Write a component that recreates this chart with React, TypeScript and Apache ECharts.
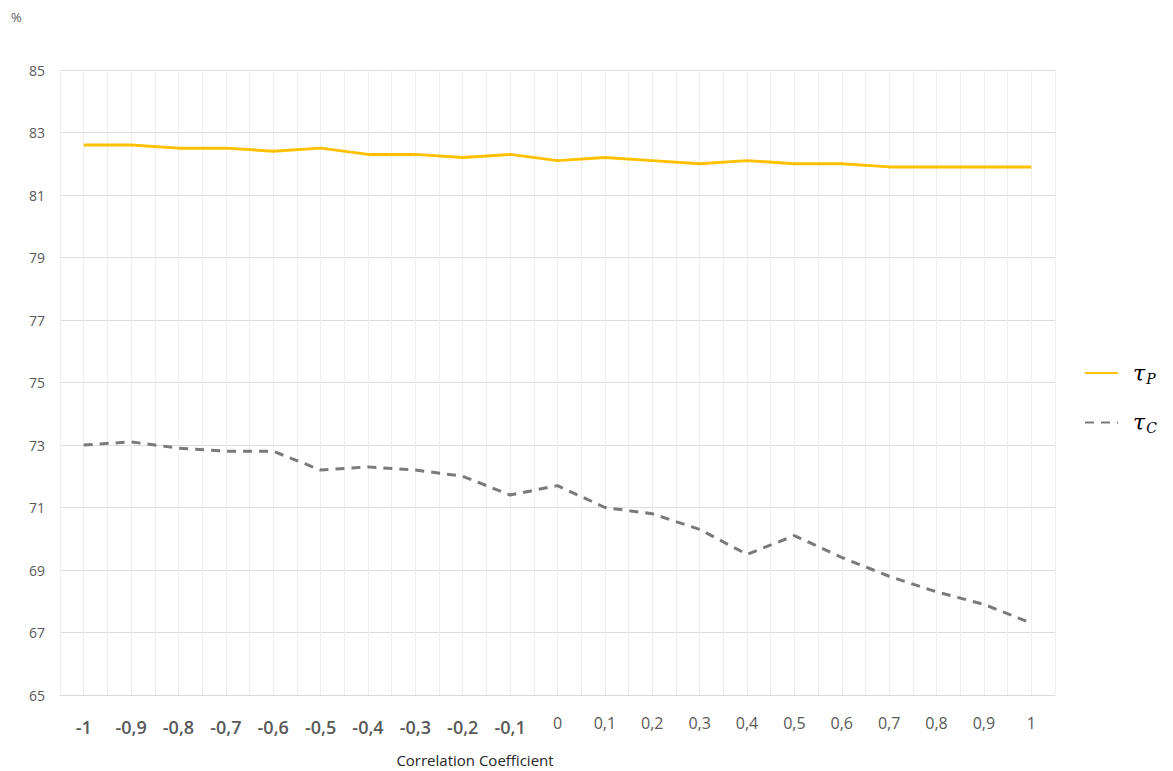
import React, { useEffect, useRef } from "react";
import * as echarts from "echarts";

const correlation: number[] = [-1, -0.9, -0.8, -0.7, -0.6, -0.5, -0.4, -0.3, -0.2, -0.1, 0, 0.1, 0.2, 0.3, 0.4, 0.5, 0.6, 0.7, 0.8, 0.9, 1];
const tauP: number[] = [82.6, 82.6, 82.5, 82.5, 82.4, 82.5, 82.3, 82.3, 82.2, 82.3, 82.1, 82.2, 82.1, 82.0, 82.1, 82.0, 82.0, 81.9, 81.9, 81.9, 81.9];
const tauC: number[] = [73.0, 73.1, 72.9, 72.8, 72.8, 72.2, 72.3, 72.2, 72.0, 71.4, 71.7, 71.0, 70.8, 70.3, 69.5, 70.1, 69.4, 68.8, 68.3, 67.9, 67.3];
const yTicks = { min: 65, max: 85, interval: 2 };

const FONT = "'Open Sans', 'Liberation Sans', sans-serif";

export default function App() {
  const ref = useRef<HTMLDivElement>(null);
  useEffect(() => {
    if (!ref.current) return;
    const chart = echarts.init(ref.current, undefined, { renderer: "svg" });
    chart.setOption({
      animation: false,
      backgroundColor: "#ffffff",
      grid: { left: 60, right: 118, top: 70, bottom: 76, containLabel: false },
      legend: {
        orient: "vertical",
        left: 1079,
        top: 357,
        itemWidth: 33,
        itemHeight: 14,
        itemGap: 26,
        data: ["tauP", "tauC"],
        itemStyle: { opacity: 0 },
        formatter: (name: string) =>
          name === "tauP" ? "{t|τ}{s|P}" : "{t|τ}{s|C}",
        textStyle: {
          rich: {
            t: { fontFamily: "'DejaVu Serif', serif", fontStyle: "italic", fontSize: 22, color: "#000", padding: [0, 0, 0, 10] },
            s: { fontFamily: "'DejaVu Serif', serif", fontStyle: "italic", fontSize: 14, color: "#000", padding: [11, 0, 0, 1] },
          },
        },
      },
      xAxis: {
        type: "value",
        min: -1.05,
        max: 1.05,
        interval: 0.05,
        axisLine: { show: true, lineStyle: { color: "#d9d9d9", width: 1 } },
        axisTick: { show: false },
        splitLine: { show: true, lineStyle: { color: "#eeeeee", width: 1 } },
        axisLabel: {
          margin: 20,
          formatter: (v: number) => {
            const n = Math.round(v * 20);
            if (n % 2 !== 0) return "";
            const val = n / 20;
            const s = (Math.round(val * 10) / 10).toString().replace(".", ",");
            return val < 0 ? "{a|" + s + "}" : "{b|" + s + "}";
          },
          rich: {
            a: { fontFamily: FONT, fontSize: 18, fontWeight: 600, color: "#595959", padding: [3, 0, 0, 0] },
            b: { fontFamily: FONT, fontSize: 16, color: "#595959" },
          },
        },
      },
      yAxis: {
        type: "value",
        min: yTicks.min,
        max: yTicks.max,
        interval: yTicks.interval,
        axisLine: { show: false },
        axisTick: { show: false },
        splitLine: { show: true, lineStyle: { color: "#dcdcdc", width: 1 } },
        axisLabel: { margin: 15, fontFamily: FONT, fontSize: 14, color: "#595959" },
      },
      graphic: [
        { type: "text", left: 11, top: 10, style: { text: "%", fontFamily: FONT, fontSize: 13, fill: "#595959" } },
        { type: "text", x: 475, y: 760, style: { text: "Correlation Coefficient", fontFamily: FONT, fontSize: 15, fill: "#262626", align: "center", verticalAlign: "middle" } },
      ],
      series: [
        {
          name: "tauP",
          type: "line",
          symbol: "none",
          data: correlation.map((c, i) => [c, tauP[i]]),
          lineStyle: { color: "#FFC000", width: 3 },
          itemStyle: { color: "#FFC000" },
        },
        {
          name: "tauC",
          type: "line",
          symbol: "none",
          data: correlation.map((c, i) => [c, tauC[i]]),
          lineStyle: { color: "#7a7a7a", width: 3, type: [9, 7] },
          itemStyle: { color: "#7a7a7a" },
        },
      ],
    });
    return () => chart.dispose();
  }, []);
  return <div ref={ref} style={{ position: "fixed", left: 0, top: 0, width: 1173, height: 771 }} />;
}
